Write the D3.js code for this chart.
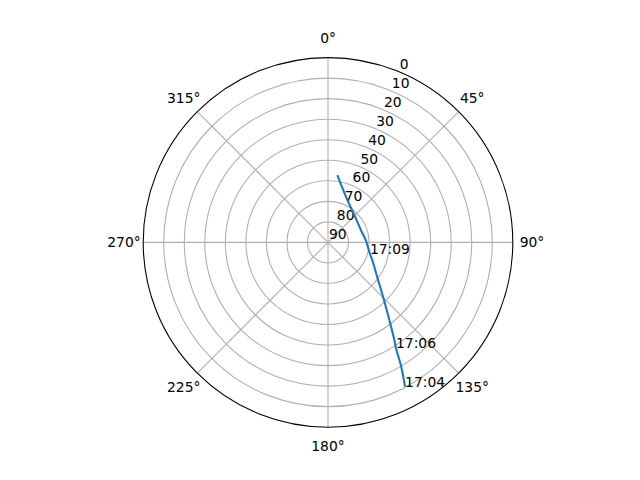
<!DOCTYPE html>
<html>
<head>
<meta charset="utf-8">
<script src="https://cdn.jsdelivr.net/npm/d3@7"></script>
<style>
  body { margin: 0; background: #fff; }
  text { font-family: "DejaVu Sans", sans-serif; font-size: 13.89px; fill: #000; }
</style>
</head>
<body>
<div id="chart"></div>
<script>
// satellite pass, azimuth (deg, clockwise from north) and elevation (deg)
const trackAz = [151.9, 149.4, 147.3, 145.8, 141.7, 135.8, 126.9, 111.7, 105.4, 86.4, 72.4, 43.8, 23.0, 7.9];
const trackEl = [10.3, 20.1, 28.7, 32.5, 41.8, 50.9, 59.5, 66.8, 68.8, 71.6, 72.8, 71.5, 66.7, 56.9];

// time labels, pointing into the track arrays
const labelIdx = [0, 2, 8];
const labelText = ["17:04", "17:06", "17:09"];

const elTicks = [0, 10, 20, 30, 40, 50, 60, 70, 80, 90];
const azTicks = [0, 45, 90, 135, 180, 225, 270, 315];

const width = 640, height = 480;
const cx = 328, cy = 242.4, R = 184.8;

const svg = d3.select("#chart").append("svg")
  .attr("width", width)
  .attr("height", height);

const g = svg.append("g").attr("transform", `translate(${cx},${cy})`);

// elevation 90 at centre, 0 at the rim
const r = d3.scaleLinear().domain([90, 0]).range([0, R]);
const ang = d3.scaleLinear().domain([0, 360]).range([0, 2 * Math.PI]);

// grid circles
g.selectAll("circle.grid")
  .data(elTicks.filter(d => d > 0 && d < 90))
  .enter().append("circle")
  .attr("class", "grid")
  .attr("r", d => r(d))
  .attr("fill", "none")
  .attr("stroke", "#b0b0b0")
  .attr("stroke-width", 1.1);

// spokes
g.selectAll("line.spoke")
  .data(azTicks)
  .enter().append("line")
  .attr("x1", 0).attr("y1", 0)
  .attr("x2", d => R * Math.sin(ang(d)))
  .attr("y2", d => -R * Math.cos(ang(d)))
  .attr("stroke", "#b0b0b0")
  .attr("stroke-width", 1.1);

// outer spine
g.append("circle")
  .attr("r", R)
  .attr("fill", "none")
  .attr("stroke", "#000")
  .attr("stroke-width", 1.1);

// azimuth labels
const labR = 204;
g.selectAll("text.az")
  .data(azTicks)
  .enter().append("text")
  .attr("x", d => labR * Math.sin(ang(d)))
  .attr("y", d => -labR * Math.cos(ang(d)))
  .attr("text-anchor", "middle")
  .attr("dominant-baseline", "central")
  .text(d => d + "°");

// elevation labels along 22.5 deg
const rl = ang(22.5);
g.selectAll("text.el")
  .data(elTicks)
  .enter().append("text")
  .attr("x", d => r(d) * Math.sin(rl) + 1)
  .attr("y", d => -r(d) * Math.cos(rl) - 3)
  .text(d => d);

// the track
const pts = trackAz.map((a, i) => [ang(a), r(trackEl[i])]);
const line = d3.lineRadial()
  .angle(d => d[0])
  .radius(d => d[1])
  .curve(d3.curveCatmullRom);

g.append("path")
  .datum(pts)
  .attr("d", line)
  .attr("fill", "none")
  .attr("stroke", "#1f77b4")
  .attr("stroke-width", 2.08);

g.selectAll("text.time")
  .data(labelIdx)
  .enter().append("text")
  .attr("x", d => r(trackEl[d]) * Math.sin(ang(trackAz[d])))
  .attr("y", d => -r(trackEl[d]) * Math.cos(ang(trackAz[d])))
  .text((d, i) => labelText[i]);
</script>
</body>
</html>
